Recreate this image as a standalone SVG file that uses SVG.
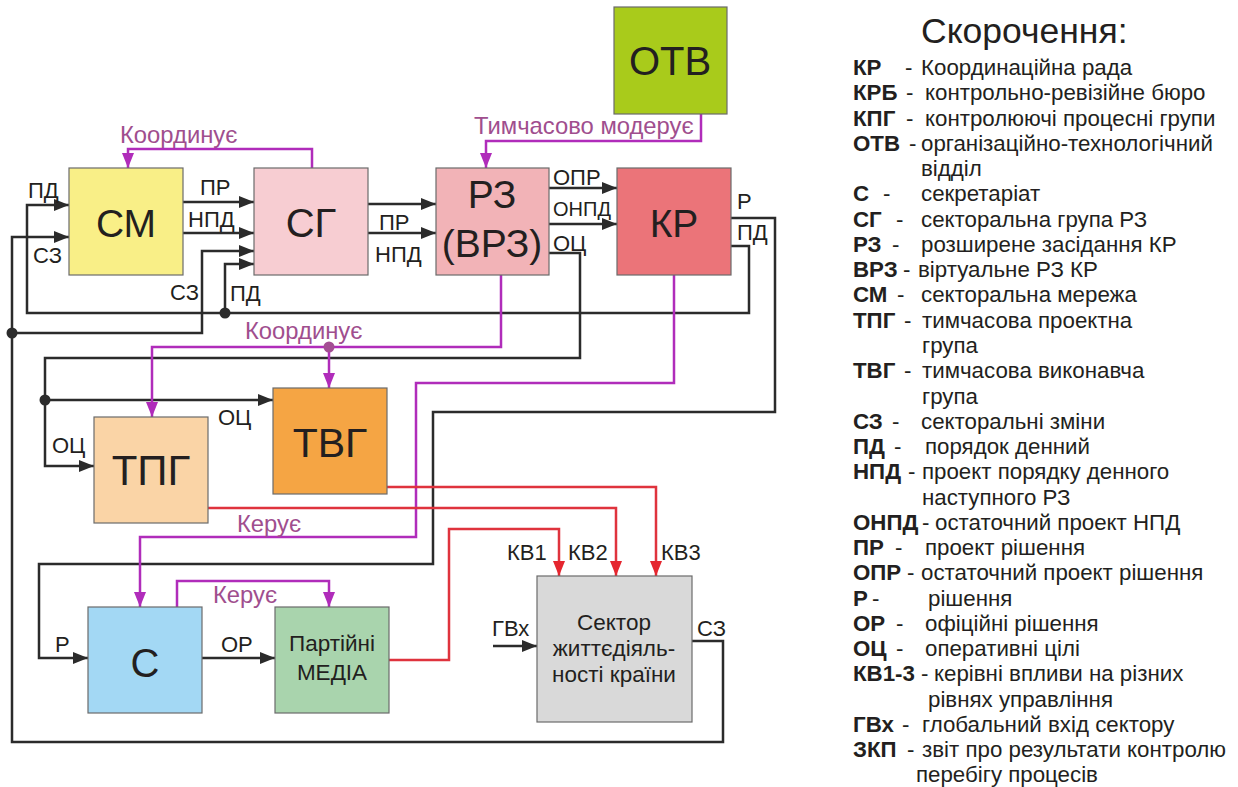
<svg xmlns="http://www.w3.org/2000/svg" width="1238" height="787" viewBox="0 0 1238 787">
<style>
.bx{stroke:#6b6b6b;stroke-width:1.2}
.nt{font-family:"Liberation Sans",Arial,sans-serif;fill:#231f20;text-anchor:middle}
.lb{font-family:"Liberation Sans",Arial,sans-serif;font-size:22px;fill:#231f20}
.pl{font-family:"Liberation Sans",Arial,sans-serif;font-size:23.8px;fill:#a04e8e}
.k{fill:none;stroke:#2b2b2b;stroke-width:2.5}
.p{fill:none;stroke:#b02cba;stroke-width:2.5}
.r{fill:none;stroke:#df333d;stroke-width:2.5}
.lg{font-family:"Liberation Sans",Arial,sans-serif;font-size:22.3px;fill:#231f20}
.b{font-weight:bold}
</style>
<defs>
<marker id="ak" markerUnits="userSpaceOnUse" markerWidth="15" markerHeight="12" refX="15" refY="6" orient="auto"><path d="M0,0 L15,6 L0,12 z" fill="#2b2b2b"/></marker>
<marker id="ap" markerUnits="userSpaceOnUse" markerWidth="15" markerHeight="12" refX="15" refY="6" orient="auto"><path d="M0,0 L15,6 L0,12 z" fill="#b02cba"/></marker>
<marker id="ar" markerUnits="userSpaceOnUse" markerWidth="15" markerHeight="12" refX="15" refY="6" orient="auto"><path d="M0,0 L15,6 L0,12 z" fill="#e5262f"/></marker>
</defs>
<rect width="1238" height="787" fill="#ffffff"/>

<g id="connectors">
<path class="k" d="M731,246 H749 V313 H27 V205 H69" marker-end="url(#ak)"/>
<path class="k" d="M225,313 V264 H254" marker-end="url(#ak)"/>
<path class="k" d="M692,641 H723 V742 H12 V237 H69" marker-end="url(#ak)"/>
<path class="k" d="M12,333 H202 V251 H254" marker-end="url(#ak)"/>
<path class="k" d="M183,202 H254" marker-end="url(#ak)"/>
<path class="k" d="M183,233 H254" marker-end="url(#ak)"/>
<path class="k" d="M368,204 H436" marker-end="url(#ak)"/>
<path class="k" d="M368,233 H436" marker-end="url(#ak)"/>
<path class="k" d="M549,188 H617" marker-end="url(#ak)"/>
<path class="k" d="M549,224 H617" marker-end="url(#ak)"/>
<path class="k" d="M549,253 H580 V358 H45 V466 H94" marker-end="url(#ak)"/>
<path class="k" d="M45,400 H273" marker-end="url(#ak)"/>
<path class="k" d="M731,218 H775 V412 H433 V564 H39 V658 H88" marker-end="url(#ak)"/>
<path class="k" d="M202,658 H275" marker-end="url(#ak)"/>
<path class="k" d="M493,646 H537" marker-end="url(#ak)"/>
<circle cx="225" cy="313" r="5.5" fill="#2b2b2b"/>
<circle cx="12" cy="333" r="5.5" fill="#2b2b2b"/>
<circle cx="45" cy="400" r="5.5" fill="#2b2b2b"/>
<path class="p" d="M312,168 V149 H128 V168" marker-end="url(#ap)"/>
<path class="p" d="M701,114 V141 H486 V168" marker-end="url(#ap)"/>
<path class="p" d="M501,275 V347 H152 V417" marker-end="url(#ap)"/>
<path class="p" d="M329,347 V388" marker-end="url(#ap)"/>
<circle cx="329" cy="347" r="5.5" fill="#a34e93"/>
<path class="p" d="M674,275 V383 H416 V537 H140 V607" marker-end="url(#ap)"/>
<path class="p" d="M177,607 V581 H329 V607" marker-end="url(#ap)"/>
<path class="r" d="M208,508 H616 V576" marker-end="url(#ar)"/>
<path class="r" d="M387,487 H656 V576" marker-end="url(#ar)"/>
<path class="r" d="M389,660 H449 V529 H559 V576" marker-end="url(#ar)"/>
</g>

<g id="connector-labels">
<text class="lb" x="28" y="198">ПД</text>
<text class="lb" x="33" y="263">СЗ</text>
<text class="lb" x="200" y="195">ПР</text>
<text class="lb" x="188" y="227">НПД</text>
<text class="lb" x="170" y="300">СЗ</text>
<text class="lb" x="230" y="301">ПД</text>
<text class="lb" x="379" y="230">ПР</text>
<text class="lb" x="375" y="262">НПД</text>
<text class="lb" x="553" y="185">ОПР</text>
<text class="lb" x="553" y="216" style="font-size:20px">ОНПД</text>
<text class="lb" x="553" y="251">ОЦ</text>
<text class="lb" x="737" y="209">Р</text>
<text class="lb" x="737" y="240">ПД</text>
<text class="lb" x="218" y="425">ОЦ</text>
<text class="lb" x="52" y="453">ОЦ</text>
<text class="lb" x="55" y="652">Р</text>
<text class="lb" x="221" y="652">ОР</text>
<text class="lb" x="507" y="560">КВ1</text>
<text class="lb" x="568" y="560">КВ2</text>
<text class="lb" x="661" y="560">КВ3</text>
<text class="lb" x="492" y="636">ГВх</text>
<text class="lb" x="697" y="636">СЗ</text>
<text class="pl" x="120" y="143">Координує</text>
<text class="pl" x="474" y="134">Тимчасово модерує</text>
<text class="pl" x="245" y="339">Координує</text>
<text class="pl" x="237" y="532">Керує</text>
<text class="pl" x="213" y="603">Керує</text>
</g>

<g id="node-sm"><rect class="bx" x="69" y="168" width="114" height="107" fill="#f9ef87"/><text class="nt" x="126" y="237" font-size="39">СМ</text></g>
<g id="node-sg"><rect class="bx" x="254" y="168" width="114" height="107" fill="#f7cdd2"/><text class="nt" x="311" y="237" font-size="40">СГ</text></g>
<g id="node-rz"><rect class="bx" x="436" y="168" width="113" height="107" fill="#f2b3b7"/><text class="nt" x="492" y="208" font-size="39">РЗ</text><text class="nt" x="492" y="257" font-size="39">(ВРЗ)</text></g>
<g id="node-kr"><rect class="bx" x="617" y="168" width="114" height="107" fill="#eb7479"/><text class="nt" x="674" y="237" font-size="39">КР</text></g>
<g id="node-otv"><rect class="bx" x="614" y="7" width="113" height="107" fill="#a9cb1b"/><text class="nt" x="670" y="75" font-size="40">ОТВ</text></g>
<g id="node-tpg"><rect class="bx" x="94" y="417" width="114" height="106" fill="#fad4a6"/><text class="nt" x="151" y="485" font-size="42">ТПГ</text></g>
<g id="node-tvg"><rect class="bx" x="273" y="388" width="114" height="106" fill="#f5a544"/><text class="nt" x="330" y="457" font-size="41">ТВГ</text></g>
<g id="node-s"><rect class="bx" x="88" y="607" width="114" height="106" fill="#a3d8f4"/><text class="nt" x="145" y="677" font-size="40">С</text></g>
<g id="node-media"><rect class="bx" x="275" y="607" width="114" height="106" fill="#a9d4ad"/><text class="nt" x="332" y="651" font-size="22.5">Партійні</text><text class="nt" x="332" y="680" font-size="22.5">МЕДІА</text></g>
<g id="node-sector"><rect class="bx" x="537" y="576" width="155" height="146" fill="#d9d9d9"/><text class="nt" x="614" y="630" font-size="22.5">Сектор</text><text class="nt" x="614" y="656" font-size="22.5">життєдіяль-</text><text class="nt" x="614" y="682" font-size="22.5">ності країни</text></g>

<g id="legend">
<text class="lg" x="921" y="43" style="font-size:35.5px">Скорочення:</text>
<text class="lg" x="853" y="75"><tspan class="b">КР</tspan><tspan x="905">-</tspan><tspan x="921">Координаційна рада</tspan></text>
<text class="lg" x="853" y="100"><tspan class="b">КРБ</tspan><tspan x="906">-</tspan><tspan x="925">контрольно-ревізійне бюро</tspan></text>
<text class="lg" x="853" y="126"><tspan class="b">КПГ</tspan><tspan x="906">-</tspan><tspan x="925">контролюючі процесні групи</tspan></text>
<text class="lg" x="853" y="151"><tspan class="b">ОТВ</tspan><tspan x="909">-</tspan><tspan x="921">організаційно-технологічний</tspan></text>
<text class="lg" x="921" y="176">відділ</text>
<text class="lg" x="853" y="201"><tspan class="b">С</tspan><tspan x="883">-</tspan><tspan x="921">секретаріат</tspan></text>
<text class="lg" x="853" y="227"><tspan class="b">СГ</tspan><tspan x="896">-</tspan><tspan x="921">секторальна група РЗ</tspan></text>
<text class="lg" x="853" y="252"><tspan class="b">РЗ</tspan><tspan x="892">-</tspan><tspan x="921">розширене засідання КР</tspan></text>
<text class="lg" x="853" y="277"><tspan class="b">ВРЗ</tspan><tspan x="903">-</tspan><tspan x="918">віртуальне РЗ КР</tspan></text>
<text class="lg" x="853" y="302"><tspan class="b">СМ</tspan><tspan x="897">-</tspan><tspan x="921">секторальна мережа</tspan></text>
<text class="lg" x="853" y="328"><tspan class="b">ТПГ</tspan><tspan x="904">-</tspan><tspan x="922">тимчасова проектна</tspan></text>
<text class="lg" x="922" y="353">група</text>
<text class="lg" x="853" y="378"><tspan class="b">ТВГ</tspan><tspan x="904">-</tspan><tspan x="922">тимчасова виконавча</tspan></text>
<text class="lg" x="922" y="404">група</text>
<text class="lg" x="853" y="429"><tspan class="b">СЗ</tspan><tspan x="892">-</tspan><tspan x="921">секторальні зміни</tspan></text>
<text class="lg" x="853" y="454"><tspan class="b">ПД</tspan><tspan x="894">-</tspan><tspan x="925">порядок денний</tspan></text>
<text class="lg" x="853" y="479"><tspan class="b">НПД</tspan><tspan x="908">-</tspan><tspan x="922">проект порядку денного</tspan></text>
<text class="lg" x="922" y="505">наступного РЗ</text>
<text class="lg" x="853" y="530"><tspan class="b">ОНПД</tspan><tspan x="922">-</tspan><tspan x="935">остаточний проект НПД</tspan></text>
<text class="lg" x="853" y="555"><tspan class="b">ПР</tspan><tspan x="895">-</tspan><tspan x="925">проект рішення</tspan></text>
<text class="lg" x="853" y="580"><tspan class="b">ОПР</tspan><tspan x="907">-</tspan><tspan x="921">остаточний проект рішення</tspan></text>
<text class="lg" x="853" y="606"><tspan class="b">Р</tspan><tspan x="872">-</tspan><tspan x="928">рішення</tspan></text>
<text class="lg" x="853" y="631"><tspan class="b">ОР</tspan><tspan x="896">-</tspan><tspan x="925">офіційні рішення</tspan></text>
<text class="lg" x="853" y="656"><tspan class="b">ОЦ</tspan><tspan x="896">-</tspan><tspan x="925">оперативні цілі</tspan></text>
<text class="lg" x="853" y="681"><tspan class="b">КВ1-3</tspan><tspan x="921">-</tspan><tspan x="934">керівні впливи на різних</tspan></text>
<text class="lg" x="928" y="707">рівнях управління</text>
<text class="lg" x="853" y="732"><tspan class="b">ГВх</tspan><tspan x="902">-</tspan><tspan x="922">глобальний вхід сектору</tspan></text>
<text class="lg" x="853" y="757"><tspan class="b">ЗКП</tspan><tspan x="907">-</tspan><tspan x="922">звіт про результати контролю</tspan></text>
<text class="lg" x="916" y="782">перебігу процесів</text>
</g>
</svg>
